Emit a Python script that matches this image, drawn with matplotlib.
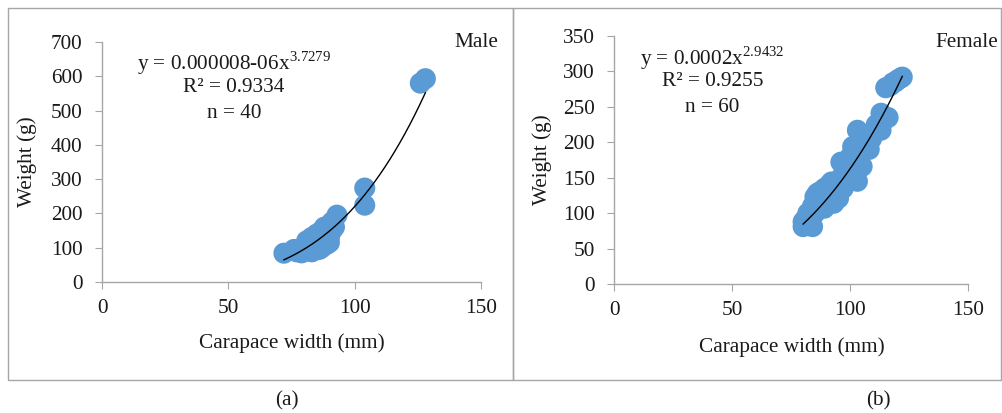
import numpy as np
import matplotlib.pyplot as plt
from matplotlib.patches import Rectangle

plt.rcParams["font.family"] = ["Liberation Serif", "DejaVu Serif"]
plt.rcParams["mathtext.fontset"] = "custom"
plt.rcParams["mathtext.rm"] = "Liberation Serif"

# Male carapace width (mm) and weight (g)
male_cw = [72, 76, 77, 78, 79, 80, 81, 81, 82, 83, 83, 84, 84, 85, 85, 86, 86, 87, 87, 88,
           88, 89, 89, 90, 90, 91, 92, 93, 91, 86, 82, 84, 88, 90, 104, 104, 126, 128, 85, 87]
male_wt = [84, 95, 88, 92, 85, 90, 100, 120, 95, 88, 130, 110, 125, 100, 140, 105, 120, 115, 150, 125,
           160, 110, 140, 115, 165, 150, 160, 195, 175, 95, 105, 92, 135, 130, 274, 224, 580, 593, 115, 100]

# Female carapace width (mm) and weight (g)
female_cw = [80, 80, 81, 82, 83, 84, 84, 85, 85, 86, 86, 87, 87, 88, 88, 89, 89, 90, 90, 91,
             92, 92, 93, 93, 94, 94, 95, 95, 96, 96, 97, 98, 99, 100, 101, 101, 102, 103, 103, 103,
             104, 105, 106, 107, 108, 109, 110, 111, 112, 113, 113, 114, 115, 116, 117, 118, 119, 120, 121, 122]
female_wt = [81, 88, 92, 100, 95, 81, 110, 123, 100, 115, 128, 118, 130, 125, 110, 107, 135, 120, 130, 140,
             144, 125, 114, 130, 135, 120, 121, 140, 172, 150, 135, 160, 170, 180, 194, 160, 175, 217, 145, 185,
             200, 166, 195, 200, 190, 205, 215, 225, 220, 217, 241, 230, 277, 235, 280, 284, 285, 288, 290, 292]

# power trend lines (y = a * x^b), as given by the fitted equations
male_fit = (7.7e-6, 3.7279)
female_fit = (2.12e-4, 2.9432)

blue = "#5B9BD5"
grey = "#A6A6A6"
text_col = "#1a1a1a"
fs = 15.3

fig = plt.figure(figsize=(10.02, 4.13), dpi=100)

# outer panel boxes
fig.patches.append(Rectangle((8 / 1002, 1 - 380 / 413), 505 / 1002, 372 / 413,
                             transform=fig.transFigure, fill=False, ec=grey, lw=1.0))
fig.patches.append(Rectangle((513 / 1002, 1 - 380 / 413), 488 / 1002, 372 / 413,
                             transform=fig.transFigure, fill=False, ec=grey, lw=1.0))

panels = [
    dict(rect=[0.1018, 0.3172, 0.3782, 0.5811], x=male_cw, y=male_wt, fit=male_fit,
         ylim=700, ystep=100, sex="Male", sexpos=(1.045, 1.0),
         eq=r"y = 0.000008-06x$^{\mathrm{3.7279}}$", r2="R² = 0.9334", n="n = 40",
         eqx=0.348, ty=(0.9125, 0.8125, 0.704), ylab=-0.198, label="(a)", labx=287),
    dict(rect=[0.6131, 0.3123, 0.3533, 0.6005], x=female_cw, y=female_wt, fit=female_fit,
         ylim=350, ystep=50, sex="Female", sexpos=(1.084, 0.973),
         eq=r"y = 0.0002x$^{\mathrm{2.9432}}$", r2="R² = 0.9255", n="n = 60",
         eqx=0.277, ty=(0.911, 0.815, 0.713), ylab=-0.205, label="(b)", labx=878),
]

for p in panels:
    ax = fig.add_axes(p["rect"])
    ax.scatter(p["x"], p["y"], s=230, c=blue, edgecolors="none", zorder=2)
    a, b = p["fit"]
    xx = np.linspace(min(p["x"]), max(p["x"]), 200)
    ax.plot(xx, a * xx ** b, color="black", lw=1.0, zorder=3)

    ax.set_xlim(0, 150)
    ax.set_ylim(0, p["ylim"])
    ax.set_xticks([0, 50, 100, 150])
    ax.set_yticks(np.arange(0, p["ylim"] + 1, p["ystep"]))
    for s in ["top", "right"]:
        ax.spines[s].set_visible(False)
    for s in ["left", "bottom"]:
        ax.spines[s].set_color(grey)
        ax.spines[s].set_linewidth(1.0)
    ax.tick_params(direction="out", length=5, color=grey, labelsize=fs,
                   labelcolor=text_col)
    ax.tick_params(axis="y", pad=9)
    ax.tick_params(axis="x", pad=7)

    ax.set_xlabel("Carapace width (mm)", fontsize=fs, color=text_col, va="center")
    ax.xaxis.set_label_coords(0.5, -0.255)
    ax.set_ylabel("Weight (g)", fontsize=fs, color=text_col, va="center")
    ax.yaxis.set_label_coords(p["ylab"], 0.5)

    for txt, ty in zip([p["eq"], p["r2"], p["n"]], p["ty"]):
        ax.text(p["eqx"], ty, txt, transform=ax.transAxes, ha="center", va="center",
                fontsize=fs, color=text_col)
    ax.text(p["sexpos"][0], p["sexpos"][1], p["sex"], transform=ax.transAxes,
            ha="right", va="center", fontsize=fs, color=text_col)

    fig.text(p["labx"] / 1002, 1 - 401 / 413, p["label"], ha="center", va="center",
             fontsize=fs, color=text_col)

fig.savefig("out.png", dpi=100)
